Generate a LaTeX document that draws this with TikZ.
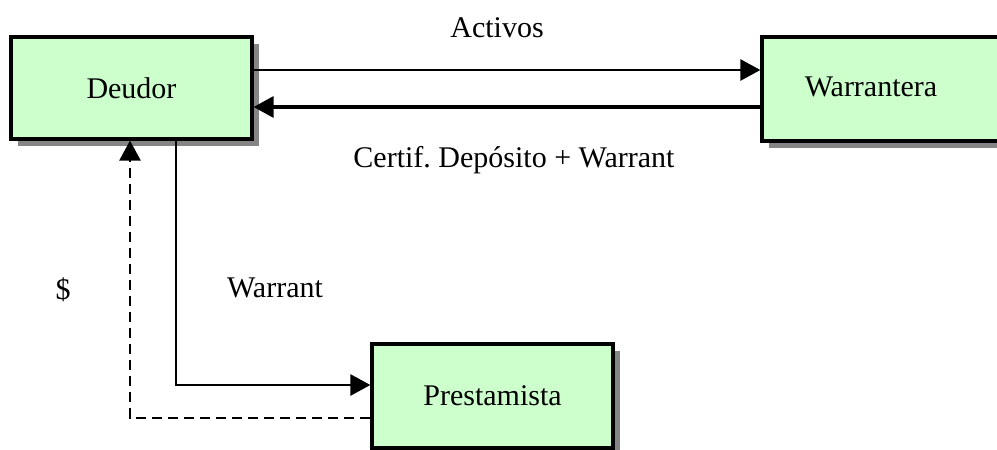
\documentclass[tikz,border=0pt]{standalone}
\usepackage{fontspec}
\setmainfont{Liberation Serif}
\usetikzlibrary{arrows.meta,shadows}
\definecolor{boxgreen}{HTML}{CCFFCC}
\definecolor{shadowgray}{HTML}{858585}
\begin{document}
\begin{tikzpicture}[x=1pt,y=-1pt,
  box/.style={draw=black,line width=3.2pt,fill=boxgreen,inner sep=0pt,
    drop shadow={shadow xshift=7pt,shadow yshift=-7pt,fill=shadowgray,opacity=1}},
  lbl/.style={font=\fontsize{30}{36}\selectfont},
  arr/.style={line width=2.6pt,-{Triangle[length=20pt,width=21pt]}},
  dasharr/.style={arr,dash pattern=on 10pt off 6pt},
]
\useasboundingbox (0,0) rectangle (997,450);
\clip (0,0) rectangle (997,450);
\node[box,lbl,minimum width=241pt,minimum height=102pt] (d) at (131.5,88) {Deudor};
\node[box,minimum width=250pt,minimum height=104pt] (w) at (887,89) {};
\node[lbl] (wt) at (871,87) {Warrantera};
\node[box,lbl,minimum width=241pt,minimum height=104pt] (p) at (492.5,396) {Prestamista};

\coordinate (ya) at (0,70);
\coordinate (yb) at (0,107);
\coordinate (c1) at (176,385);
\coordinate (c2) at (130,418);

\draw[arr] (d.east |- ya) -- (w.west |- ya);
\draw[arr,line width=3.2pt] (w.west |- yb) -- (d.east |- yb);
\draw[arr] (d.south -| c1) -- (c1) -- (p.west |- c1);
\draw[dasharr] (p.west |- c2) -- (c2) -- (d.south -| c2);

\node[lbl] (la) at (497,28) {Activos};
\node[lbl] (lc) at (514,160) {Certif.\ Depósito + Warrant};
\node[lbl] (ld) at (63,290) {\$};
\node[lbl] (lw) at (275,288) {Warrant};
\end{tikzpicture}
\end{document}
